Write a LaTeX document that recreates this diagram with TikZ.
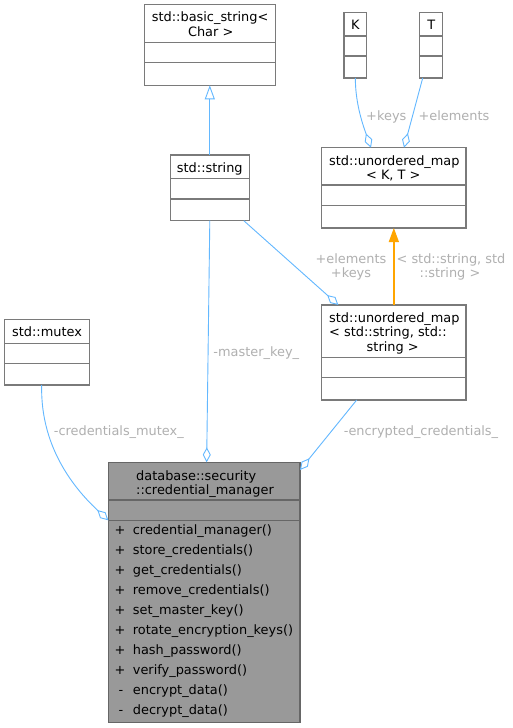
\documentclass[tikz,border=0pt]{standalone}
\usepackage{fontspec}
\setmainfont{DejaVu Sans}
\usetikzlibrary{arrows.meta}
\definecolor{edgeblue}{HTML}{63B8FF}
\definecolor{boxgray}{HTML}{7A7A7A}
\definecolor{cmfill}{HTML}{999999}
\definecolor{cmline}{HTML}{666666}
\definecolor{labelgray}{HTML}{B0B0B0}
\definecolor{inhorange}{HTML}{FFA500}
\tikzset{
  classbox/.style={draw=boxgray, line width=1.2pt, fill=white, inner sep=0pt, outer sep=0pt},
  mainbox/.style={draw=cmline, line width=1.2pt, fill=cmfill, inner sep=0pt, outer sep=0pt},
  sepline/.style={draw=boxgray, line width=1.2pt},
  cmsep/.style={draw=cmline, line width=1.2pt},
  txt/.style={inner sep=0pt, text=black},
  lbl/.style={inner sep=0pt, text=labelgray},
  assoc/.style={draw=edgeblue, line width=0.9pt, {Diamond[open,length=15pt,width=8pt]}-},
  inherit/.style={draw=edgeblue, line width=0.9pt, -{Triangle[open,length=14pt,width=10pt]}},
  tmplinst/.style={draw=inhorange, line width=1.3pt, -{Triangle[length=14pt,width=10pt,fill=inhorange]}}
}
\begin{document}
\begin{tikzpicture}[x=1pt,y=-1pt,font=\fontsize{12.9}{14.4}\selectfont]
\useasboundingbox (0,0) rectangle (513,728);
\fill[white] (0,0) rectangle (513,728);

% boxes
\node[classbox, minimum width=130.6pt, minimum height=80.6pt] (bstr) at (210,45) {};
\node[classbox, minimum width=22.7pt, minimum height=65.7pt] (K) at (355.35,45.15) {};
\node[classbox, minimum width=23pt, minimum height=65.7pt] (T) at (431.2,45.15) {};
\node[classbox, minimum width=79pt, minimum height=65.7pt] (str) at (209.8,187.85) {};
\node[classbox, minimum width=144.3pt, minimum height=80.3pt] (mapKT) at (393.85,187.85) {};
\node[classbox, minimum width=84.6pt, minimum height=65.7pt] (mutex) at (47,352.15) {};
\node[classbox, minimum width=144.3pt, minimum height=95pt] (mapSS) at (393.85,352.5) {};
\node[mainbox, minimum width=191.7pt, minimum height=260.4pt] (cm) at (204.15,592.5) {};

% separators
\draw[sepline] (144.7,42.7) -- (275.3,42.7);
\draw[sepline] (144.7,62.7) -- (275.3,62.7);
\draw[sepline] (344,36) -- (366.7,36);
\draw[sepline] (344,56) -- (366.7,56);
\draw[sepline] (419.7,36) -- (442.7,36);
\draw[sepline] (419.7,56) -- (442.7,56);
\draw[sepline] (170.3,178.3) -- (249.3,178.3);
\draw[sepline] (170.3,199) -- (249.3,199);
\draw[sepline] (321.7,185) -- (466,185);
\draw[sepline] (321.7,205.7) -- (466,205.7);
\draw[sepline] (4.7,343.3) -- (89.3,343.3);
\draw[sepline] (4.7,363.3) -- (89.3,363.3);
\draw[sepline] (321.7,357.7) -- (466,357.7);
\draw[sepline] (321.7,377.7) -- (466,377.7);
\draw[cmsep] (108.3,500) -- (300,500);
\draw[cmsep] (108.3,520.3) -- (300,520.3);

% box texts
\node[txt, anchor=base west] (bstrA) at (151.7,21.7) {std::basic\_string<};
\node[txt, anchor=base] (bstrB) at (210.7,36.7) {Char >};
\node[txt, anchor=base] (Kt) at (355.35,29.7) {K};
\node[txt, anchor=base] (Tt) at (431.2,29.7) {T};
\node[txt, anchor=base] (strt) at (209.8,172.3) {std::string};
\node[txt, anchor=base west] (mapKTa) at (329,165) {std::unordered\_map};
\node[txt, anchor=base] (mapKTb) at (393.3,179) {< K, T >};
\node[txt, anchor=base] (mutext) at (47,336.7) {std::mutex};
\node[txt, anchor=base west] (mapSSa) at (329,322.3) {std::unordered\_map};
\node[txt, anchor=base west] (mapSSb) at (329,336.7) {< std::string, std::};
\node[txt, anchor=base] (mapSSc) at (392.7,351.7) {string >};
\node[txt, anchor=base west] (cmA) at (136,480) {database::security};
\node[txt, anchor=base west] (cmB) at (136,494.3) {::credential\_manager};

% members
\node[txt, anchor=base] (s1) at (120,534.3) {+};
\node[txt, anchor=base west] (f1) at (132.7,534.3) {credential\_manager()};
\node[txt, anchor=base] (s2) at (120,554.3) {+};
\node[txt, anchor=base west] (f2) at (132.7,554.3) {store\_credentials()};
\node[txt, anchor=base] (s3) at (120,574.3) {+};
\node[txt, anchor=base west] (f3) at (132.7,574.3) {get\_credentials()};
\node[txt, anchor=base] (s4) at (120,594.3) {+};
\node[txt, anchor=base west] (f4) at (132.7,594.3) {remove\_credentials()};
\node[txt, anchor=base] (s5) at (120,614.3) {+};
\node[txt, anchor=base west] (f5) at (132.7,614.3) {set\_master\_key()};
\node[txt, anchor=base] (s6) at (120,634.3) {+};
\node[txt, anchor=base west] (f6) at (132.7,634.3) {rotate\_encryption\_keys()};
\node[txt, anchor=base] (s7) at (120,654.3) {+};
\node[txt, anchor=base west] (f7) at (132.7,654.3) {hash\_password()};
\node[txt, anchor=base] (s8) at (120,674.3) {+};
\node[txt, anchor=base west] (f8) at (132.7,674.3) {verify\_password()};
\node[txt, anchor=base] (s9) at (121,694.3) {-};
\node[txt, anchor=base west] (f9) at (132.7,694.3) {encrypt\_data()};
\node[txt, anchor=base] (s10) at (121,714.3) {-};
\node[txt, anchor=base west] (f10) at (132.7,714.3) {decrypt\_data()};

% connectors
\draw[inherit] (str.north) -- (str.north |- bstr.south);
\draw[assoc] ([xshift=-22.85pt]mapKT.north) .. controls (364,128) and (355.3,105) .. (K.south);
\draw[assoc] ([xshift=10.15pt]mapKT.north) -- ([xshift=-8.5pt]T.south);
\draw[tmplinst] (mapSS.north) -- (mapSS.north |- mapKT.south);
\draw[assoc] ([xshift=-55.5pt]mapSS.north) -- ([xshift=-5.5pt]str.south east);
\draw[assoc] ([xshift=2.5pt]cm.north) -- (str.south);
\draw[assoc] ([yshift=-7.7pt]cm.north east) -- ([xshift=-37.15pt]mapSS.south);
\draw[assoc] ([yshift=-58pt]cm.north west) .. controls (78,492) and (40,450) .. ([xshift=-5.3pt]mutex.south);

% labels
\node[lbl, anchor=base] (lkeys) at (386.3,120) {+keys};
\node[lbl, anchor=base] (lelem) at (454,120) {+elements};
\node[lbl, anchor=base] (lelem2) at (351,263.3) {+elements};
\node[lbl, anchor=base] (lkeys2) at (351,277.7) {+keys};
\node[lbl, anchor=base] (ltA) at (451,263.3) {< std::string, std};
\node[lbl, anchor=base] (ltB) at (450,277.7) {::string >};
\node[lbl, anchor=base] (lmaster) at (256.3,356.7) {-master\_key\_};
\node[lbl, anchor=base] (lmutex) at (118.8,435) {-credentials\_mutex\_};
\node[lbl, anchor=base] (lenc) at (421,435) {-encrypted\_credentials\_};
\end{tikzpicture}
\end{document}
